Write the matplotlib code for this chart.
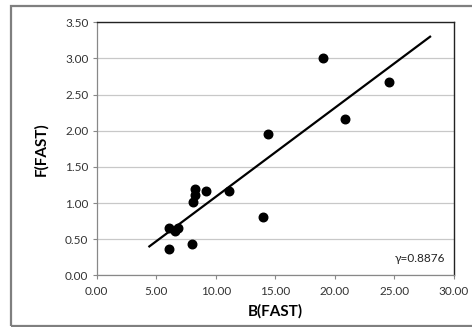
import matplotlib
matplotlib.use("Agg")
import matplotlib.pyplot as plt
from matplotlib.patches import Rectangle

plt.rcParams["font.family"] = ["Lato", "DejaVu Sans"]

# scatter data: B(FAST) vs F(FAST)
b_fast = [18.97, 24.54, 20.88, 14.36, 13.94, 11.14, 9.17, 8.25, 8.25, 8.06,
          8.04, 6.07, 6.10, 6.55, 6.85]
f_fast = [3.00, 2.67, 2.16, 1.95, 0.80, 1.17, 1.17, 1.19, 1.11, 1.02,
          0.44, 0.36, 0.65, 0.61, 0.66]

# fitted trend line end points
trend_x = [4.42, 27.99]
trend_y = [0.40, 3.30]

x_ticks = [0, 5, 10, 15, 20, 25, 30]
y_ticks = [0, 0.5, 1.0, 1.5, 2.0, 2.5, 3.0, 3.5]
note = "γ=0.8876"

fig = plt.figure(figsize=(4.72, 3.27), dpi=100)
fig.patch.set_facecolor("white")
# chart frame (cropped on the right)
fig.add_artist(Rectangle((11 / 472, 1 / 327), 470 / 472, 320 / 327,
                         transform=fig.transFigure, fill=False,
                         edgecolor="#7f7f7f", linewidth=1.6))

ax = fig.add_axes([0.2049, 0.158, 0.757, 0.774])
ax.set_xlim(0, 30)
ax.set_ylim(0, 3.5)
ax.set_xticks(x_ticks)
ax.set_yticks(y_ticks)
ax.set_xticklabels([f"{v:.2f}" for v in x_ticks], fontsize=8.5, color="#333333")
ax.set_yticklabels([f"{v:.2f}" for v in y_ticks], fontsize=8.5, color="#333333")
ax.tick_params(axis="both", length=3, width=0.8, color="#888888", pad=3)
ax.tick_params(axis="x", pad=5)

ax.grid(True, axis="y", color="#c8c8c8", linewidth=0.9)
ax.set_axisbelow(True)
for side in ("left", "bottom"):
    ax.spines[side].set_color("#888888")
    ax.spines[side].set_linewidth(0.9)
for side in ("top", "right"):
    ax.spines[side].set_color("#222222")
    ax.spines[side].set_linewidth(1.0)

ax.plot(trend_x, trend_y, color="black", linewidth=1.6, zorder=3)
ax.scatter(b_fast, f_fast, s=38, color="black", zorder=4)

ax.set_xlabel("B(FAST)", fontsize=11, fontweight="bold", labelpad=5)
ax.set_ylabel("F(FAST)", fontsize=11, fontweight="bold", labelpad=12)
ax.text(0.975, 0.045, note, transform=ax.transAxes, ha="right", va="bottom",
        fontsize=8.5, color="#222222")

fig.savefig("out.png", dpi=100, facecolor="white")
